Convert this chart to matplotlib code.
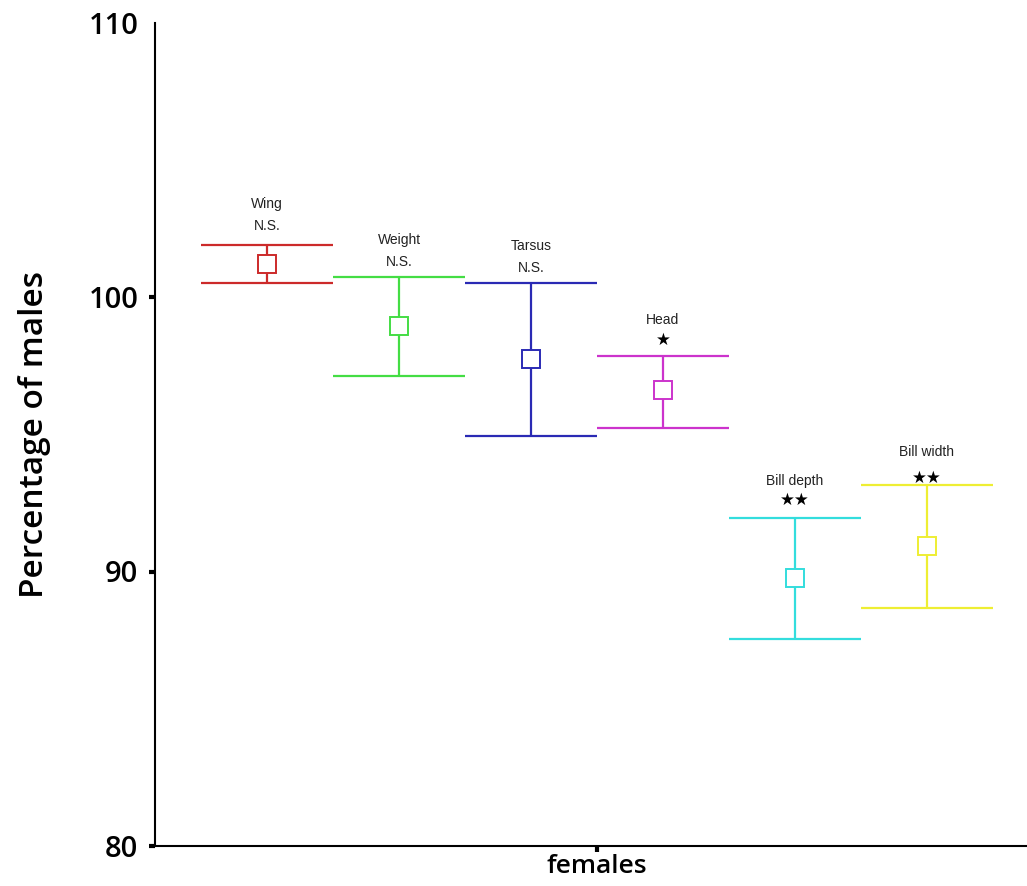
import matplotlib
matplotlib.use("Agg")
import matplotlib.pyplot as plt

# ---- data ----
traits = ["Wing", "Weight", "Tarsus", "Head", "Bill depth", "Bill width"]
means = [101.2, 98.94, 97.74, 96.61, 89.76, 90.93]
lower = [100.5, 97.12, 94.94, 95.23, 87.54, 88.67]
upper = [101.9, 100.73, 100.5, 97.85, 91.95, 93.15]
significance = ["N.S.", "N.S.", "N.S.", "\u2605", "\u2605\u2605", "\u2605\u2605"]
name_y = [103.39, 102.08, 101.86, 99.16, 93.30, 94.36]
sig_y = [102.59, 101.28, 101.06, 98.43, 92.62, 93.41]
colors = ["#cc2a2a", "#44dd44", "#2a2ab4", "#cc33cc", "#33dddd", "#eeee33"]
group = "females"
yticks = [80, 90, 100, 110]

W, H = 1027, 886
fig = plt.figure(figsize=(W / 100, H / 100), dpi=100)
ax = fig.add_axes([155 / W, 40 / H, (W - 155) / W, (846 - 22.5) / H])

n = len(traits)
step = 0.15
for i, t in enumerate(traits):
    x = (i - (n - 1) / 2) * step
    c = colors[i]
    ax.vlines(x, lower[i], upper[i], color=c, lw=1.6)
    ax.hlines([lower[i], upper[i]], x - step / 2, x + step / 2, color=c, lw=1.6)
    ax.plot([x], [means[i]], marker="s", ms=12.5, mfc="white", mec=c, mew=1.4, ls="none")
    ax.text(x, name_y[i], t, ha="center", va="center", fontsize=10,
            family="Liberation Sans", color="#222222")
    if significance[i].startswith("N"):
        ax.text(x, sig_y[i], significance[i], ha="center", va="center", fontsize=10,
                family="Liberation Sans", color="#222222")
    else:
        ax.text(x, sig_y[i], significance[i], ha="center", va="center", fontsize=12,
                family="DejaVu Sans", color="black")

ax.set_xlim(-3.35 * step, 3.26 * step)
ax.set_ylim(80, 110)
ax.set_xticks([0])
ax.set_xticklabels([group])
ax.set_yticks(yticks)
ax.set_yticklabels([str(v) for v in yticks])
for lab in ax.get_yticklabels():
    lab.set_fontsize(21)
    lab.set_family("Open Sans")
    lab.set_fontweight("semibold")
for lab in ax.get_xticklabels():
    lab.set_fontsize(19)
    lab.set_family("Open Sans")
    lab.set_fontweight("semibold")
ax.tick_params(axis="y", length=4, width=3, color="black", pad=8)
ax.tick_params(axis="x", length=4, width=3, color="black", pad=2)
ax.yaxis.get_major_ticks()[-1].tick1line.set_visible(False)
ax.set_ylabel("Percentage of males", fontsize=24, family="Open Sans",
              fontweight="semibold", labelpad=27)
for s in ["top", "right"]:
    ax.spines[s].set_visible(False)
for s in ["left", "bottom"]:
    ax.spines[s].set_linewidth(1.5)
ax.set_facecolor("white")
fig.savefig("out.png", dpi=100, facecolor="white")
